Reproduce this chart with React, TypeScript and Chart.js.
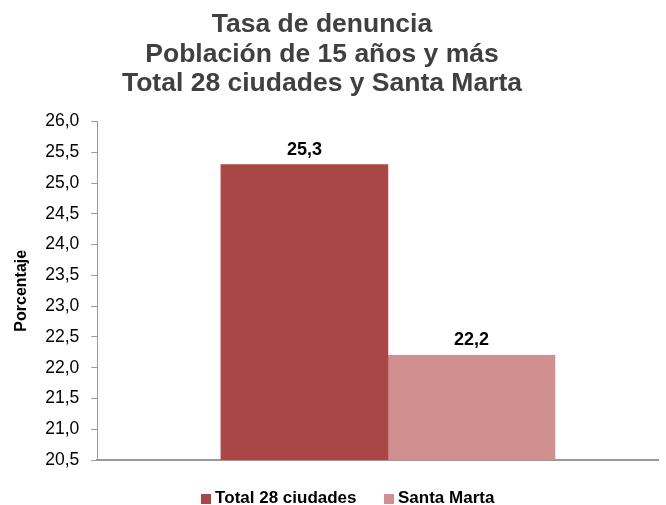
import React, { useEffect, useRef } from "react";
import { Chart, registerables } from "chart.js";

Chart.register(...registerables);

const categories = [0];
const seriesNames = ["Total 28 ciudades", "Santa Marta"];
const totalValues = [25.3];
const santaMartaValues = [22.2];
const seriesColors = ["#A94746", "#D18F8F"];
const titleLines = ["Tasa de denuncia", "Población de 15 años y más", "Total 28 ciudades y Santa Marta"];
const yTitle = "Porcentaje";
const yMin = 20.5;
const yMax = 26.0;
const yStep = 0.5;

const FONT = "'Liberation Sans', Arial, sans-serif";
const fmt = (v: number) => v.toFixed(1).replace(".", ",");

const makeSwatch = (color: string) => {
  const c = document.createElement("canvas");
  c.width = 10;
  c.height = 10;
  const g = c.getContext("2d")!;
  g.fillStyle = color;
  g.fillRect(0, 0, 10, 10);
  return c;
};

const valueLabels = {
  id: "valueLabels",
  afterDatasetsDraw(chart: any) {
    const ctx = chart.ctx;
    ctx.save();
    ctx.font = `bold 18px ${FONT}`;
    ctx.fillStyle = "#000";
    ctx.textAlign = "center";
    ctx.textBaseline = "alphabetic";
    chart.data.datasets.forEach((ds: any, i: number) => {
      const meta = chart.getDatasetMeta(i);
      meta.data.forEach((bar: any, j: number) => {
        ctx.fillText(fmt(ds.data[j].y), bar.x, bar.y - 10);
      });
    });
    ctx.restore();
  },
};

const layoutTweaks = {
  id: "layoutTweaks",
  afterInit(chart: any) {
    const lg = chart.legend;
    if (!lg) return;
    const orig = lg.fit.bind(lg);
    lg.fit = function () {
      orig();
      this.height = 43;
    };
  },
  afterLayout(chart: any) {
    const lg = chart.legend;
    if (lg) {
      lg.top -= 4;
      lg.height += 4;
      lg.left += 19;
      lg.right += 19;
    }
    const tb = chart.titleBlock;
    if (tb) {
      tb.left -= 9;
      tb.right -= 9;
    }
  },
};

export default function App() {
  const ref = useRef<HTMLCanvasElement>(null);
  useEffect(() => {
    if (!ref.current) return;
    const toPoints = (vals: number[]) => vals.map((v, i) => ({ x: categories[i], y: v }));
    const chart = new Chart(ref.current, {
      type: "bar",
      data: {
        datasets: [
          { label: seriesNames[0], data: toPoints(totalValues), backgroundColor: seriesColors[0], barThickness: 167 },
          { label: seriesNames[1], data: toPoints(santaMartaValues), backgroundColor: seriesColors[1], barThickness: 167 },
        ],
      },
      options: {
        animation: false,
        responsive: false,
        maintainAspectRatio: false,
        layout: { padding: { left: 4, right: 8, top: 10, bottom: 0 } },
        plugins: {
          title: {
            display: true,
            text: titleLines,
            color: "#404040",
            font: { family: FONT, size: 26.5, weight: "bold", lineHeight: 1.113 },
            padding: { top: 0, bottom: 23 },
          },
          legend: {
            position: "bottom",
            labels: {
              color: "#000",
              font: { family: FONT, size: 17, weight: "bold" },
              usePointStyle: true,
              pointStyleWidth: 1,
              boxWidth: 10,
              boxHeight: 10,
              padding: 32,
              generateLabels: (ch: any) => {
                const items = (Chart.defaults as any).plugins.legend.labels.generateLabels(ch);
                return items.map((it: any) => ({ ...it, pointStyle: makeSwatch(it.fillStyle) }));
              },
            },
          },
          tooltip: { enabled: false },
        },
        scales: {
          x: {
            type: "linear",
            min: -0.522,
            max: 0.478,
            grid: { display: false },
            border: { display: true, color: "#999", width: 2 },
            ticks: { display: false },
            afterFit: (s: any) => {
              s.height = 2;
            },
          },
          y: {
            min: yMin,
            max: yMax,
            ticks: {
              stepSize: yStep,
              color: "#000",
              font: { family: FONT, size: 17.5 },
              callback: (v: any) => fmt(Number(v)),
              padding: 12,
            },
            grid: { drawOnChartArea: false, drawTicks: true, tickLength: 6, color: "#999" },
            border: { display: true, color: "#999", width: 1 },
            title: {
              display: true,
              text: yTitle,
              color: "#000",
              font: { family: FONT, size: 16, weight: "bold" },
              padding: { top: 8, bottom: 2 },
            },
          },
        },
      },
      plugins: [valueLabels, layoutTweaks],
    });
    return () => chart.destroy();
  }, []);
  return (
    <div style={{ position: "absolute", left: 0, top: 0, width: 666, height: 505, background: "#fff" }}>
      <canvas ref={ref} width={666} height={505} />
    </div>
  );
}
